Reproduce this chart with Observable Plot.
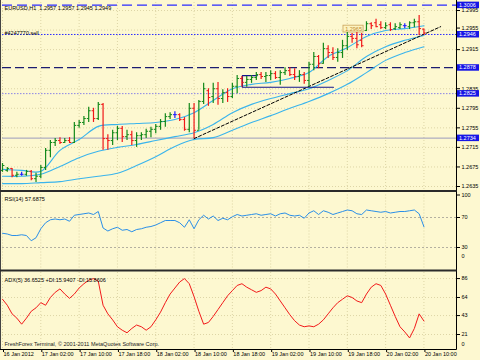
<!DOCTYPE html>
<html><head><meta charset="utf-8">
<script src="https://cdn.jsdelivr.net/npm/d3@7"></script>
<script src="https://cdn.jsdelivr.net/npm/@observablehq/plot@0.6"></script>
<style>
html,body{margin:0;padding:0;background:#fdf8d0;}
#wrap{position:relative;width:480px;height:360px;overflow:hidden;background:#fdf8d0;}
#wrap svg{position:absolute;left:0;}
</style></head><body><div id="wrap"></div>
<script>
// ---------- DATA ----------
const titleText = "EURUSD,H1  1.2957 1.2957 1.2945 1.2949";
const orderText = "#4247770 sell";
const rsiTitle = "RSI(14) 57.6875";
const adxTitle = "ADX(5) 36.6525 +DI:15.9407 -DI:15.8606";
const captionText = "FreshForex Terminal, \u00a9 2001-2011 MetaQuotes Software Corp.";

const xTickIdx = [0,8,16,24,32,40,48,56,64,72,80,88];
const xLabels = ["16 Jan 2012","17 Jan 02:00","17 Jan 10:00","17 Jan 18:00","18 Jan 02:00","18 Jan 10:00","18 Jan 18:00","19 Jan 02:00","19 Jan 10:00","19 Jan 18:00","20 Jan 02:00","20 Jan 10:00"];

const priceTicks = [1.2635,1.2675,1.2715,1.2755,1.2795,1.2835,1.2915,1.2955,1.2995];
const priceTickNearBox = 1.2955;
const rsiTicks = [100,70,30];
const rsiLevels = [70,30];
const adxTicks = [86,64,43,21];

const open = [1.2668,1.2668,1.2672,1.2658,1.2660,1.2660,1.2666,1.2651,1.2656,1.2674,
1.2709,1.2725,1.2729,1.2725,1.2729,1.2725,1.2760,1.2766,1.2774,1.2790,
1.2774,1.2803,1.2733,1.2729,1.2745,1.2754,1.2737,1.2741,1.2729,1.2739,
1.2741,1.2748,1.2752,1.2758,1.2768,1.2778,1.2782,1.2782,1.2772,1.2752,
1.2795,1.2750,1.2809,1.2831,1.2819,1.2835,1.2815,1.2827,1.2819,1.2840,
1.2856,1.2848,1.2854,1.2858,1.2864,1.2860,1.2862,1.2866,1.2858,1.2868,
1.2872,1.2864,1.2860,1.2864,1.2852,1.2885,1.2901,1.2887,1.2917,1.2909,
1.2899,1.2909,1.2923,1.2942,1.2938,1.2934,1.2954,1.2968,1.2970,1.2966,
1.2960,1.2966,1.2958,1.2960,1.2964,1.2962,1.2970,1.2972,1.2957];
const high = [1.2682,1.2674,1.2672,1.2664,1.2664,1.2668,1.2668,1.2662,1.2678,1.2713,
1.2729,1.2733,1.2735,1.2733,1.2735,1.2766,1.2770,1.2778,1.2797,1.2795,
1.2807,1.2805,1.2741,1.2750,1.2758,1.2758,1.2750,1.2748,1.2745,1.2745,
1.2752,1.2756,1.2762,1.2772,1.2784,1.2786,1.2788,1.2784,1.2776,1.2805,
1.2805,1.2811,1.2846,1.2835,1.2846,1.2848,1.2833,1.2835,1.2846,1.2862,
1.2860,1.2860,1.2862,1.2868,1.2868,1.2868,1.2872,1.2870,1.2872,1.2878,
1.2878,1.2876,1.2872,1.2868,1.2889,1.2909,1.2903,1.2928,1.2923,1.2919,
1.2917,1.2934,1.2950,1.2948,1.2950,1.2948,1.2972,1.2970,1.2977,1.2972,
1.2970,1.2970,1.2968,1.2970,1.2968,1.2972,1.2977,1.2985,1.2957];
const low = [1.2664,1.2664,1.2653,1.2653,1.2656,1.2656,1.2647,1.2643,1.2651,1.2668,
1.2694,1.2717,1.2721,1.2723,1.2723,1.2723,1.2754,1.2760,1.2766,1.2766,
1.2770,1.2709,1.2709,1.2719,1.2729,1.2725,1.2729,1.2719,1.2715,1.2729,
1.2733,1.2735,1.2743,1.2750,1.2756,1.2772,1.2774,1.2768,1.2748,1.2745,
1.2733,1.2750,1.2803,1.2799,1.2805,1.2801,1.2805,1.2807,1.2815,1.2825,
1.2838,1.2838,1.2846,1.2852,1.2854,1.2848,1.2852,1.2854,1.2842,1.2862,
1.2860,1.2852,1.2848,1.2844,1.2838,1.2872,1.2876,1.2885,1.2897,1.2893,
1.2889,1.2897,1.2913,1.2928,1.2917,1.2919,1.2952,1.2956,1.2960,1.2956,
1.2956,1.2952,1.2954,1.2956,1.2958,1.2956,1.2960,1.2944,1.2945];
const close = [1.2678,1.2672,1.2658,1.2660,1.2660,1.2666,1.2651,1.2656,1.2674,1.2709,
1.2725,1.2729,1.2725,1.2729,1.2725,1.2760,1.2766,1.2774,1.2790,1.2774,
1.2803,1.2733,1.2729,1.2745,1.2754,1.2737,1.2741,1.2729,1.2739,1.2741,
1.2748,1.2752,1.2758,1.2768,1.2778,1.2782,1.2782,1.2772,1.2752,1.2795,
1.2750,1.2809,1.2835,1.2817,1.2835,1.2815,1.2827,1.2819,1.2840,1.2856,
1.2848,1.2854,1.2858,1.2864,1.2860,1.2862,1.2866,1.2858,1.2868,1.2872,
1.2864,1.2860,1.2864,1.2852,1.2885,1.2901,1.2887,1.2917,1.2909,1.2899,
1.2909,1.2923,1.2942,1.2938,1.2925,1.2923,1.2968,1.2964,1.2962,1.2960,
1.2964,1.2956,1.2962,1.2966,1.2964,1.2970,1.2972,1.2958,1.2949];

// moving averages, read every 4 bars
const maIdx = [0,4,8,12,16,20,24,28,32,36,40,44,48,52,56,60,64,68,72,76,80,84,88];
const maFast = [1.2670,1.2668,1.2666,1.2709,1.2731,1.2758,1.2762,1.2764,1.2766,1.2772,1.2786,1.2811,1.2835,1.2844,1.2848,1.2856,1.2868,1.2901,1.2919,1.2942,1.2954,1.2958,1.2964];
const maMid = [1.2656,1.2656,1.2660,1.2676,1.2694,1.2707,1.2715,1.2721,1.2729,1.2737,1.2745,1.2762,1.2786,1.2803,1.2815,1.2825,1.2835,1.2852,1.2872,1.2901,1.2921,1.2934,1.2944];
const maSlow = [1.2641,1.2641,1.2643,1.2645,1.2651,1.2656,1.2662,1.2678,1.2696,1.2717,1.2731,1.2735,1.2750,1.2766,1.2780,1.2795,1.2809,1.2825,1.2844,1.2868,1.2893,1.2909,1.2921];

// horizontal price levels (right-axis labelled)
const levelPrices = [1.3006,1.2946,1.2878,1.2825,1.2734];

// trend line and drawn box (bar index, price)
const trendIdx = [40,91.5];
const trendPrice = [1.2733,1.2962];
const boxIdx = [50.1,53.2,69.1];
const boxPrice = [1.2862,1.2838];
const noteIdx = [71.2,75.4];
const notePrice = [1.2964,1.2950];
const noteText = "1.2965";

const rsi = [49,48,46,46,47,46,39,43,55,63,
67,68,67,68,65,73,74,75,76,74,
78,56,52,55,57,53,54,51,54,55,
57,58,60,63,66,66,66,63,57,67,
55,67,73,68,72,66,69,67,71,74,
72,73,74,75,73,74,75,72,75,76,
73,72,73,69,76,79,74,79,77,74,
76,78,80,79,75,74,80,79,78,77,
78,76,77,78,78,79,80,75,57.69];

const adx = [62,55,45,40,33,40,48,52,58,55,
64,70,74,68,63,68,75,80,84,86,
83,55,45,38,30,26,23,28,32,30,
26,30,38,47,58,68,75,82,86,80,
65,48,33,35,42,50,58,66,72,78,
80,76,73,70,72,76,74,68,60,52,
44,37,32,30,31,30,33,38,45,52,
58,62,66,64,60,58,68,76,80,78,
68,55,42,30,24,17,28,45,36.65];

// ---------- STYLE ----------
const FONT = "Liberation Sans, Arial, sans-serif";
const FS = 5.5;
const GRID = "#ddd5a6";
const MA = "#3ab4ec";
const levelStyle = [
  {stroke:"#2a2aff", dash:"10,5", w:1.2},
  {stroke:"#2a2aff", dash:"1.5,1.5", w:1},
  {stroke:"#1c1c70", dash:"9,4", w:1.2},
  {stroke:"#8a84e6", dash:"1.5,1.5", w:1},
  {stroke:"#9c9cbc", dash:null, w:1}
];
const xDomain = [0,94.8];
const W = 480, ML = 2, MR = 24;

const bars = open.map((o,i)=>({k:i,o,h:high[i],l:low[i],c:close[i]}));
const barColor = d => d.c > d.o ? "#13891a" : d.c < d.o ? "#f01818" : "#1a1aff";
const ma = (arr) => maIdx.map((k,i)=>({k, v:arr[i]}));
const style = {background:"transparent", fontFamily:FONT, fontSize:FS+"px", color:"#000", overflow:"visible"};
const wrap = document.getElementById("wrap");

// ---------- MAIN PANE ----------
const main = Plot.plot({
  width:W, height:192, marginLeft:ML, marginRight:MR, marginTop:2, marginBottom:1,
  style, color:{type:"identity"},
  x:{domain:xDomain, axis:null},
  y:{domain:[1.26248,1.30114], axis:null},
  marks:[
    Plot.gridX(xTickIdx, {stroke:GRID, strokeOpacity:1, strokeDasharray:"1,2"}),
    Plot.gridY(priceTicks, {stroke:GRID, strokeOpacity:1, strokeDasharray:"1,2"}),
    ...levelPrices.map((p,i)=>Plot.ruleY([p], {stroke:levelStyle[i].stroke, strokeWidth:levelStyle[i].w, strokeDasharray:levelStyle[i].dash})),
    Plot.line(ma(maSlow), {x:"k", y:"v", stroke:MA, strokeWidth:1.1, curve:"catmull-rom"}),
    Plot.line(ma(maMid), {x:"k", y:"v", stroke:MA, strokeWidth:1.1, curve:"catmull-rom"}),
    Plot.line(ma(maFast), {x:"k", y:"v", stroke:MA, strokeWidth:1.1, curve:"catmull-rom"}),
    Plot.line(trendIdx.map((k,i)=>({k, v:trendPrice[i]})), {x:"k", y:"v", stroke:"#000", strokeWidth:1, strokeDasharray:"3,2"}),
    Plot.line([{k:boxIdx[1],v:boxPrice[0]},{k:boxIdx[0],v:boxPrice[0]},{k:boxIdx[0],v:boxPrice[1]},{k:boxIdx[2],v:boxPrice[1]}], {x:"k", y:"v", stroke:"#14148c", strokeWidth:1.2}),
    Plot.rect([{x1:noteIdx[0],x2:noteIdx[1],y1:notePrice[1],y2:notePrice[0]}], {x1:"x1",x2:"x2",y1:"y1",y2:"y2", fill:"#fdf3c0", stroke:"#c9a35a", strokeWidth:0.8}),
    Plot.text([noteText], {x:(noteIdx[0]+noteIdx[1])/2, y:(notePrice[0]+notePrice[1])/2, text:d=>d, fill:"#c08a2a", fontSize:FS}),
    Plot.ruleX(bars, {x:"k", y1:"l", y2:"h", stroke:barColor, strokeWidth:1.2}),
    Plot.link(bars, {x1:d=>d.k-0.4, x2:"k", y1:"o", y2:"o", stroke:barColor, strokeWidth:1}),
    Plot.link(bars, {x1:"k", x2:d=>d.k+0.4, y1:"c", y2:"c", stroke:barColor, strokeWidth:1}),
    Plot.axisY({anchor:"right", ticks:priceTicks.filter(t=>t!==priceTickNearBox), tickFormat:d=>d.toFixed(4), tickSize:3, tickPadding:2, fontSize:FS, label:null}),
    Plot.axisY({anchor:"right", ticks:[priceTickNearBox], tickFormat:d=>d.toFixed(4), tickSize:3, tickPadding:2, fontSize:FS, label:null, dy:-2}),
    Plot.text([titleText], {frameAnchor:"top-left", dx:2, dy:4, text:d=>d, textAnchor:"start", fill:"#000", fontSize:FS}),
    Plot.text([orderText], {frameAnchor:"top-left", dx:2, dy:29, text:d=>d, textAnchor:"start", fill:"#000", fontSize:FS})
  ]
});
main.style.top = "0px";
wrap.appendChild(main);
{
  const y = main.scale("y");
  const s = d3.select(main);
  levelPrices.forEach(p=>{
    const py = y.apply(p);
    s.append("rect").attr("x",457).attr("y",py-3).attr("width",22).attr("height",6.5).attr("fill","#1616e6");
    s.append("text").attr("x",459).attr("y",py).attr("dy","0.35em").attr("fill","#fff")
      .attr("text-anchor","start").attr("font-size",FS).attr("font-family",FONT).text(p.toFixed(4));
  });
}

// ---------- RSI PANE ----------
const rsiData = rsi.map((v,k)=>({k,v}));
const rsiPlot = Plot.plot({
  width:W, height:78, marginLeft:ML, marginRight:MR, marginTop:2.5, marginBottom:0.5,
  style,
  x:{domain:xDomain, axis:null},
  y:{domain:[0,100], axis:null},
  marks:[
    Plot.gridX(xTickIdx, {stroke:GRID, strokeOpacity:1, strokeDasharray:"1,2"}),
    Plot.ruleY(rsiLevels, {stroke:"#b4b0a0", strokeDasharray:"2,2"}),
    Plot.line(rsiData, {x:"k", y:"v", stroke:"#2a8fe8", strokeWidth:1}),
    Plot.axisY({anchor:"right", ticks:rsiTicks, tickSize:3, tickPadding:2, fontSize:FS, label:null}),
    Plot.text(["0"], {frameAnchor:"bottom-right", dx:5, dy:-12, text:d=>d, textAnchor:"start", fontSize:FS, fill:"#000"}),
    Plot.text([rsiTitle], {frameAnchor:"top-left", dx:2, dy:2.5, text:d=>d, textAnchor:"start", fill:"#000", fontSize:FS})
  ]
});
rsiPlot.style.top = "192px";
wrap.appendChild(rsiPlot);

// ---------- ADX PANE ----------
const adxData = adx.map((v,k)=>({k,v}));
const adxPlot = Plot.plot({
  width:W, height:90, marginLeft:ML, marginRight:MR, marginTop:2, marginBottom:11,
  style,
  x:{domain:xDomain},
  y:{domain:[3.57,93.05], axis:null},
  marks:[
    Plot.gridX(xTickIdx, {stroke:GRID, strokeOpacity:1, strokeDasharray:"1,2"}),
    Plot.gridY(adxTicks, {stroke:GRID, strokeOpacity:1, strokeDasharray:"1,2"}),
    Plot.line(adxData, {x:"k", y:"v", stroke:"#f21a1a", strokeWidth:1}),
    Plot.axisY({anchor:"right", ticks:adxTicks, tickSize:3, tickPadding:2, fontSize:FS, label:null}),
    Plot.text(["0"], {frameAnchor:"bottom-right", dx:5, dy:-4, text:d=>d, textAnchor:"start", fontSize:FS, fill:"#000"}),
    Plot.axisX({anchor:"bottom", ticks:xTickIdx, tickFormat:d=>xLabels[xTickIdx.indexOf(d)], textAnchor:"start", dx:1, tickSize:3, tickPadding:0, fontSize:FS, label:null}),
    Plot.text([adxTitle], {frameAnchor:"top-left", dx:2, dy:6, text:d=>d, textAnchor:"start", fill:"#000", fontSize:FS}),
    Plot.text([captionText], {frameAnchor:"bottom-left", dx:2, dy:-4, text:d=>d, textAnchor:"start", fill:"#222", fontSize:FS})
  ]
});
adxPlot.style.top = "270px";
wrap.appendChild(adxPlot);

// ---------- frame / pane separators ----------
const ov = d3.select(wrap).append("svg").attr("width",480).attr("height",360).style("top","0px").style("pointer-events","none");
ov.append("line").attr("x1",0.5).attr("x2",0.5).attr("y1",0).attr("y2",349.5).attr("stroke","#444").attr("stroke-width",1);
ov.append("line").attr("x1",456.5).attr("x2",456.5).attr("y1",0).attr("y2",349.5).attr("stroke","#000").attr("stroke-width",1);
ov.append("line").attr("x1",0).attr("x2",456.5).attr("y1",191).attr("y2",191).attr("stroke","#2a2a2a").attr("stroke-width",2);
ov.append("line").attr("x1",0).attr("x2",456.5).attr("y1",270.5).attr("y2",270.5).attr("stroke","#2a2a2a").attr("stroke-width",2);
ov.append("line").attr("x1",0).attr("x2",456.5).attr("y1",349.5).attr("y2",349.5).attr("stroke","#000").attr("stroke-width",1);
</script>
</body></html>
